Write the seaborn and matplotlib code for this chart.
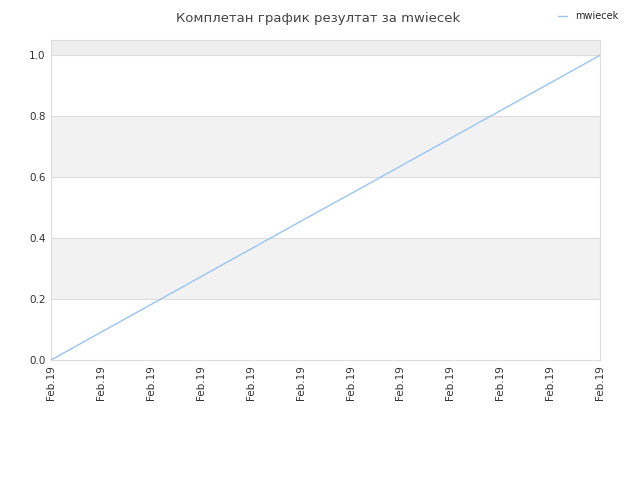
import pandas as pd
import matplotlib
matplotlib.use('Agg')
import matplotlib.pyplot as plt
import seaborn as sns

# data
dates = ['Feb.19'] * 12
scores = [0.0, 0.091, 0.182, 0.273, 0.364, 0.455, 0.545, 0.636, 0.727, 0.818, 0.909, 1.0]
player = 'mwiecek'
title = 'Комплетан график резултат за mwiecek'

sns.set_style('white')
plt.rcParams['font.family'] = ['DejaVu Sans']

df = pd.DataFrame({'idx': range(len(scores)), 'score': scores})

fig = plt.figure(figsize=(6.4, 4.8), dpi=100)
ax = fig.add_axes([0.0797, 0.25, 0.858, 0.6667])

# alternating bands
ax.axhspan(1.0, 1.05, color='#eeeeee', zorder=0, lw=0)
ax.axhspan(0.6, 0.8, color='#f2f2f2', zorder=0, lw=0)
ax.axhspan(0.2, 0.4, color='#f2f2f2', zorder=0, lw=0)
for y in [0.2, 0.4, 0.6, 0.8, 1.0]:
    ax.axhline(y, color='#dddddd', lw=0.8, zorder=1)

sns.lineplot(data=df, x='idx', y='score', ax=ax, color='#99c4f2', lw=1, label=player, zorder=3)

ax.set_xlim(0, len(scores) - 1)
ax.set_ylim(0, 1.05)
ax.set_yticks([0.0, 0.2, 0.4, 0.6, 0.8, 1.0])
ax.set_yticklabels(['0.0', '0.2', '0.4', '0.6', '0.8', '1.0'])
ax.set_xticks(range(len(dates)))
ax.set_xticklabels(dates, rotation=90)
ax.tick_params(axis='both', labelsize=7.5, colors='#333333', length=0, pad=4)
ax.set_xlabel('')
ax.set_ylabel('')
for s in ax.spines.values():
    s.set_color('#dddddd')
    s.set_linewidth(0.8)

fig.text(0.497, 0.975, title, ha='center', va='top', fontsize=9.5, color='#444444')
ax.legend(loc='upper right', bbox_to_anchor=(0.98, 0.995), bbox_transform=fig.transFigure,
          frameon=False, fontsize=7, handlelength=1.0, handletextpad=0.8)

fig.savefig('out.png', dpi=100)
